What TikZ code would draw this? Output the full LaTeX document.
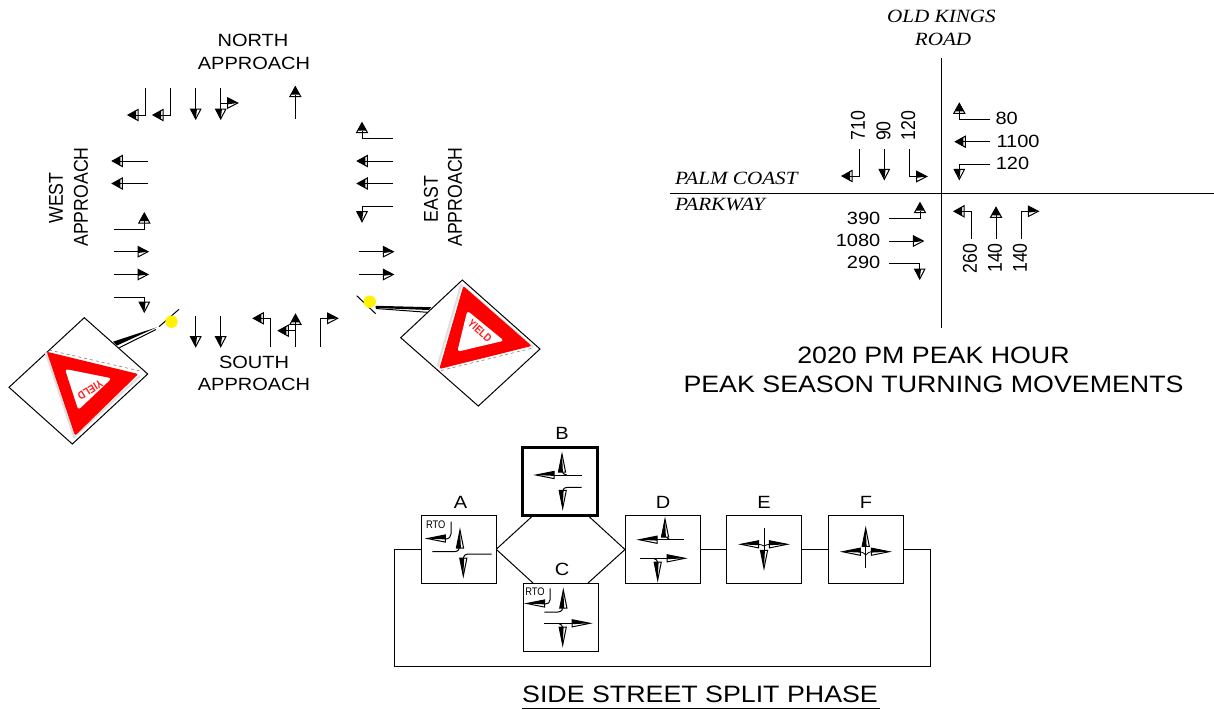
\documentclass[tikz,border=0pt]{standalone}
\usepackage{fontspec}
\setmainfont{Liberation Sans}
\newfontfamily\labH[FakeStretch=1.13]{Liberation Sans}
\newfontfamily\labV[FakeStretch=0.885]{Liberation Sans}
\newfontfamily\labS[FakeStretch=1.13]{Liberation Serif}
\newfontfamily\labR[FakeStretch=0.85]{Liberation Sans}
\tikzset{
  hlab/.style={inner sep=0pt,font=\labH\fontsize{17.7}{20}\selectfont},
  vlab/.style={inner sep=0pt,rotate=90,font=\labV\fontsize{20}{22}\selectfont},
  road/.style={inner sep=0pt,font=\labS\itshape\fontsize{18.7}{20}\selectfont},
  ttl/.style={inner sep=0pt,font=\labH\fontsize{23.7}{26}\selectfont},
  rto/.style={inner sep=0pt,font=\labR\fontsize{11}{12}\selectfont},
  phasebox/.style={draw=black,line width=1pt,fill=white,inner sep=0pt,outer sep=0pt,minimum width=75pt,minimum height=68pt},
  mv/.style={line width=1pt,line join=miter},
  link/.style={line width=1pt},
  yieldtxt/.style={inner sep=0pt,text=red!90!white,font=\labR\bfseries\fontsize{11}{11}\selectfont}
}
% split head: tip at (x,y), angle, flip, length, half width
\newcommand\hdS[6]{\begin{scope}[shift={(#1,#2)},rotate=#3,yscale=#4]
  \filldraw[fill=white,line width=1pt] (0pt,0pt)--(-#5pt,#6pt)--(-#5pt,-#6pt)--cycle;
  \fill (0pt,0pt)--(-#5pt,#6pt)--(-#5pt,-.25*#6pt)--cycle;\end{scope}}
\newcommand\bigS[4]{\hdS{#1}{#2}{#3}{#4}{10}{5.2}}
\newcommand\slimS[4]{\hdS{#1}{#2}{#3}{#4}{18}{3.6}}
% tip head: black point and white strip at the base
\newcommand\hdT[3]{\begin{scope}[shift={(#1,#2)},rotate=#3]
  \filldraw[fill=white,line width=1pt] (0pt,0pt)--(-10pt,5.5pt)--(-10pt,-5.5pt)--cycle;
  \fill (0pt,0pt)--(-8pt,4.6pt)--(-8pt,-4.6pt)--cycle;
  \draw[line width=1pt] (-10pt,0pt)--(-8pt,0pt);\end{scope}}
\newcommand\hR[2]{\bigS{#1}{#2}{0}{1}}
\newcommand\hD[2]{\bigS{#1}{#2}{-90}{-1}}
\newcommand\hL[2]{\hdT{#1}{#2}{180}}
\newcommand\hU[2]{\hdT{#1}{#2}{90}}
\newcommand\sR[2]{\slimS{#1}{#2}{0}{1}}
\newcommand\sD[2]{\slimS{#1}{#2}{-90}{-1}}
\newcommand\sL[2]{\slimS{#1}{#2}{180}{-1}}
\newcommand\sU[2]{\slimS{#1}{#2}{90}{1}}
\begin{document}
\begin{tikzpicture}[x=1pt,y=-1pt]
\useasboundingbox (0,0) rectangle (1214,709);
% ---------- lane diagram
\node[hlab] (nA) at (253,40) {NORTH};
\node[hlab] (nB) at (254,63) {APPROACH};
\node[hlab] (sA) at (254,362) {SOUTH};
\node[hlab] (sB) at (254,384) {APPROACH};
\node[vlab] (wA) at (56,198) {WEST};
\node[vlab] (wB) at (81,197) {APPROACH};
\node[vlab] (eA) at (431,199) {EAST};
\node[vlab] (eB) at (455,197) {APPROACH};
% north
\draw[mv] (145.7,88)--(145.7,115)--(130,115); \hL{128}{115}
\draw[mv] (170.7,88)--(170.7,115)--(155,115); \hL{153}{115}
\draw[mv] (195.7,88)--(195.7,112); \hD{195.7}{119}
\draw[mv] (220.7,88)--(220.7,112); \hD{220.7}{119}
\draw[mv] (220.7,103)--(230,103); \hR{237.7}{103}
\draw[mv] (295.3,118.7)--(295.3,92); \hU{295.3}{86.7}
% east
\draw[mv] (393,138)--(362,138)--(362,128); \hU{362}{122.7}
\draw[mv] (393,161)--(362,161); \hL{357.3}{161}
\draw[mv] (393,183.5)--(362,183.5); \hL{357.3}{183.5}
\draw[mv] (393,206)--(362,206)--(362,215); \hD{362}{221.7}
\draw[mv] (358.5,251.7)--(388,251.7); \hR{393.3}{251.7}
\draw[mv] (358.5,274.5)--(388,274.5); \hR{393.3}{274.5}
% west
\draw[mv] (148,161)--(118,161); \hL{112.3}{161}
\draw[mv] (148,183.5)--(118,183.5); \hL{112.3}{183.5}
\draw[mv] (113.5,229)--(144.3,229)--(144.3,218); \hU{144.3}{213}
\draw[mv] (113.5,251.7)--(142,251.7); \hR{148}{251.7}
\draw[mv] (113.5,274.5)--(142,274.5); \hR{148}{274.5}
\draw[mv] (113.5,297)--(144.3,297)--(144.3,306); \hD{144.3}{312}
% south
\draw[mv] (195.7,316)--(195.7,340); \hD{195.7}{346.7}
\draw[mv] (220.7,316)--(220.7,340); \hD{220.7}{346.7}
\draw[mv] (270.7,346.7)--(270.7,318.3)--(258,318.3); \hL{253.3}{318.3}
\draw[mv] (295.5,346.7)--(295.5,320); \hU{295.5}{314.3}
\draw[mv] (295.5,330.7)--(284,330.7); \hL{278.3}{330.7}
\draw[mv] (320.7,346.7)--(320.7,318.3)--(332,318.3); \hR{337.7}{318.3}
% west yield sign
\draw[line width=1pt] (159,326.7)--(179,309.3);
\fill[yellow] (171.5,321.7) circle[radius=6.2pt];
\fill (156.7,327.3)--(113,341.7)--(117,345.5)--cycle;
\draw[line width=1pt] (156,329.5)--(119.3,347.7);
\filldraw[fill=white,line width=1pt] (84.3,317.7)--(147.7,374)--(72.3,444)--(9,387.3)--cycle;
\draw[gray!25,line width=2pt,line join=round] (45.5,352)--(74,437)--(140,376);
\fill[red,rounded corners=2pt] (46.7,351.7)--(138.3,374)--(75,435.7)--cycle;
\draw[gray,line width=.6pt,dashed] (49,350)--(140,371);
\fill[white,rounded corners=3pt] (65,369)--(111.7,378.3)--(78.3,410)--cycle;
\node[yieldtxt,rotate=212] (yw) at (90.3,390) {YIELD};
% east yield sign
\draw[line width=1pt] (356.7,295.7)--(375.7,313.7);
\fill[yellow] (369.7,301.7) circle[radius=6.2pt];
\fill (375.7,305.8)--(431,307.2)--(429,310)--(375.7,308)--cycle;
\draw[line width=1pt] (376,308.5)--(427.3,312.3);
\filldraw[fill=white,line width=1pt] (462.3,280)--(540,349)--(478.3,406)--(400.7,337.7)--cycle;
\draw[gray!25,line width=2pt,line join=round] (437.5,366.5)--(461,285)--(533,347);
\fill[red,rounded corners=2pt] (463.3,286)--(531.7,346)--(439.3,369)--cycle;
\draw[gray,line width=.6pt,dashed] (441,370.5)--(533,348);
\fill[white,rounded corners=3pt] (467.3,310.7)--(504,340.7)--(457.3,351.7)--cycle;
\node[yieldtxt,rotate=-42] (ye) at (480,330.7) {YIELD};
% ---------- volumes
\coordinate (rN) at (941.3,58); \coordinate (rS) at (941.3,328);
\coordinate (rW) at (670,193.3); \coordinate (rE) at (1214,193.3);
\draw[line width=1.1pt] (rN)--(rS);
\draw[line width=1.1pt] (rW)--(rE);
\node[road] (kA) at (941.5,16) {OLD KINGS};
\node[road] (kB) at (943,39) {ROAD};
\node[road,anchor=west] (pA) at (675,178) {PALM COAST};
\node[road,anchor=west] (pB) at (675,204.5) {PARKWAY};
\draw[mv] (859.3,149)--(859.3,176)--(848,176); \hL{842}{176}
\draw[mv] (884.3,149)--(884.3,173); \hD{884.3}{179.3}
\draw[mv] (909.3,149)--(909.3,176.5)--(920,176.5); \hR{926.7}{176.5}
\draw[mv] (990,119)--(959.3,119)--(959.3,108); \hU{959.3}{103.3}
\draw[mv] (990,141.7)--(960,141.7); \hL{955.3}{141.7}
\draw[mv] (990,164.3)--(959.3,164.3)--(959.3,173); \hD{959.3}{179.3}
\draw[mv] (889,218.3)--(920,218.3)--(920,208); \hU{920}{202.7}
\draw[mv] (889,241)--(917,241); \hR{923.3}{241}
\draw[mv] (889,263.7)--(919.7,263.7)--(919.7,273); \hD{919.7}{279}
\draw[mv] (971,239)--(971,211.3)--(959,211.3); \hL{954}{211.3}
\draw[mv] (996,239)--(996,212); \hU{996}{207.3}
\draw[mv] (1021,239)--(1021,211.3)--(1032,211.3); \hR{1038.3}{211.3}
\node[hlab] (v1) at (1006.7,118) {80};
\node[hlab] (v2) at (1018,141) {1100};
\node[hlab] (v3) at (1012.5,163) {120};
\node[hlab,anchor=east] (v4) at (880.5,218) {390};
\node[hlab,anchor=east] (v5) at (880.5,240) {1080};
\node[hlab,anchor=east] (v6) at (880.5,262.7) {290};
\node[vlab] (v7) at (858,125.7) {710};
\node[vlab] (v8) at (883.5,131) {90};
\node[vlab] (v9) at (908.3,125.7) {120};
\node[vlab] (v10) at (970,258.3) {260};
\node[vlab] (v11) at (995,258) {140};
\node[vlab] (v12) at (1020,258) {140};
\node[ttl] (tA) at (933.5,355) {2020 PM PEAK HOUR};
\node[ttl] (tB) at (933.5,384) {PEAK SEASON TURNING MOVEMENTS};
% ---------- phases
\node[phasebox] (A) at (458.7,549.3) {};
\node[phasebox,line width=3pt] (B) at (560,481.3) {};
\node[phasebox] (C) at (560.5,617.3) {};
\node[phasebox] (D) at (662.5,549.5) {};
\node[phasebox] (E) at (764.2,549.5) {};
\node[phasebox] (F) at (866.2,549.5) {};
\node[hlab] (lA) at (460.5,502) {A};
\node[hlab] (lB) at (562,433) {B};
\node[hlab] (lC) at (562,569) {C};
\node[hlab] (lD) at (663,502) {D};
\node[hlab] (lE) at (764,502) {E};
\node[hlab] (lF) at (866,502) {F};
\coordinate (bl) at (533.3,515.3); \coordinate (br) at (587.7,515.3);
\coordinate (cl) at (533.3,583.3); \coordinate (cr) at (587.7,583.3);
\coordinate (lr) at (930,666); \coordinate (ll) at (394,666);
\draw[link] (A.east)--(bl);
\draw[link] (A.east)--(cl);
\draw[link] (br)--(D.west);
\draw[link] (cr)--(D.west);
\draw[link] (D.east)--(E.west);
\draw[link] (E.east)--(F.west);
\draw[link] (F.east)-|(lr)--(ll)|-(A.west);
% phase A
\node[rto] (rA) at (435.7,525) {RTO};
\draw[mv] (451,521.7)--(451,534) .. controls (451,537) and (449,539) .. (445,539);
\sL{427.3}{538.5}
\draw[mv] (432.3,551.7)--(454,551.7) .. controls (458,551.7) and (460,549) .. (460,546);
\sU{460}{530}
\draw[mv] (491.7,554)--(469,554) .. controls (465,554) and (463.3,556) .. (463.3,558);
\sD{463.3}{576}
% phase B
\draw[mv] (581.7,475)--(554,475); \sL{536}{475}
\draw[mv] (566.7,475) .. controls (564,475) and (562.3,473) .. (562,470.5);
\sU{562}{454}
\draw[mv] (581.7,487.3)--(568.3,487.3) .. controls (564.5,487.3) and (562.7,489) .. (562.7,491);
\sD{562.7}{508.3}
% phase C
\node[rto] (rC) at (535,591.7) {RTO};
\draw[mv] (550,588.3)--(550,600) .. controls (550,602.5) and (548,604) .. (545,604);
\sL{526.7}{603.5}
\draw[mv] (544.3,612)--(558,612) .. controls (561.5,612) and (563.3,609) .. (563.3,606);
\sU{563.3}{590}
\draw[mv] (544.3,623.3)--(572,623.3); \sR{590}{623.3}
\draw[mv] (558.3,623.3) .. controls (561,624) and (562.7,625.5) .. (562.7,628);
\sD{562.7}{645}
% phase D
\draw[mv] (684.3,539.7)--(657,539.7); \sL{639}{539.7}
\draw[mv] (670,539.7) .. controls (667.5,539) and (666,537) .. (665.5,534.5);
\sU{665}{519}
\draw[mv] (640,558.3)--(668,558.3); \sR{685}{558.3}
\draw[mv] (653.3,558.3) .. controls (656,559) and (657.7,560.5) .. (657.7,562.5);
\sD{657.7}{580}
% phase E
\draw[mv] (764,528.3)--(764,552); \sD{764}{568.3}
\draw[line width=.8pt] (764,546) .. controls (762,545) and (760.5,544.3) .. (758,544.3);
\draw[line width=.8pt] (764,546) .. controls (766,545) and (767.5,544.3) .. (770,544.3);
\sL{740.7}{544.3}
\sR{787.3}{544.3}
% phase F
\draw[mv] (865.7,568.3)--(865.7,545); \sU{865.7}{528.3}
\draw[line width=.8pt] (865.7,555) .. controls (864,553.5) and (862.5,551.7) .. (860,551.7);
\draw[line width=.8pt] (865.7,555) .. controls (867.5,553.5) and (869,551.7) .. (871,551.7);
\sL{842.3}{551.7}
\sR{889.3}{551.7}
\node[ttl] (tC) at (700,694) {SIDE STREET SPLIT PHASE};
\coordinate (uA) at (522,708); \coordinate (uB) at (880,708);
\draw[line width=1pt] (uA)--(uB);
\end{tikzpicture}
\end{document}
